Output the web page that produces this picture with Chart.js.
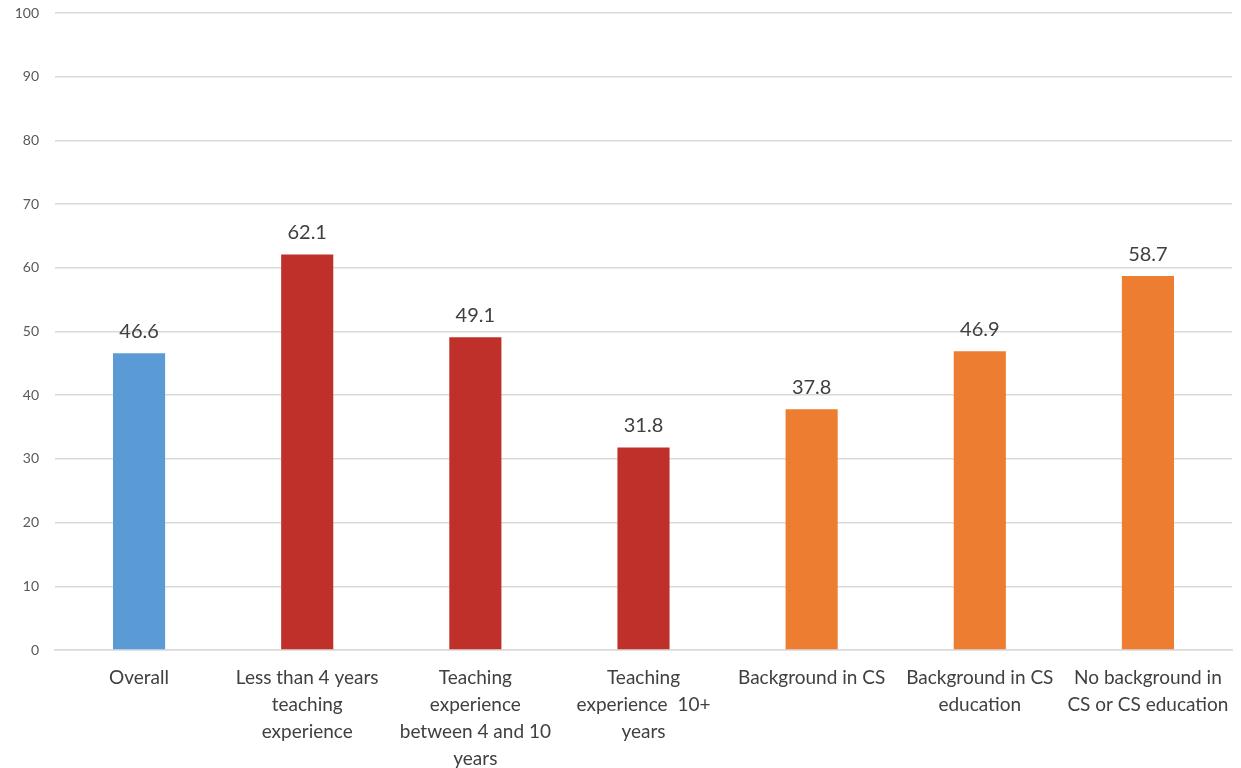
<!DOCTYPE html>
<html>
<head>
<meta charset="utf-8">
<script src="https://cdn.jsdelivr.net/npm/chart.js@4"></script>
<style>
  html, body { margin: 0; padding: 0; background: #fff; }
  #wrap { width: 1241px; height: 768px; }
</style>
</head>
<body>
<div id="wrap"><canvas id="barChart" width="1241" height="768"></canvas></div>
<script>
// categories (multi-line labels as in the original)
var categories = [
    ["Overall"],
    ["Less than 4 years", "teaching", "experience"],
    ["Teaching", "experience", "between 4 and 10", "years"],
    ["Teaching", "experience  10+", "years"],
    ["Background in CS"],
    ["Background in CS", "education"],
    ["No background in", "CS or CS education"]
];
var values = [46.6, 62.1, 49.1, 31.8, 37.8, 46.9, 58.7];
var barColors = ['#5B9BD5', '#C0302A', '#C0302A', '#C0302A', '#ED7D31', '#ED7D31', '#ED7D31'];
var yTicks = [0, 10, 20, 30, 40, 50, 60, 70, 80, 90, 100];

var fontFamily = 'Lato, "Open Sans", sans-serif';

// draws the value above each bar
var valueLabels = {
    id: 'valueLabels',
    afterDatasetsDraw: function (chart) {
        var ctx = chart.ctx;
        ctx.save();
        ctx.font = '20px ' + fontFamily;
        ctx.fillStyle = '#404040';
        ctx.textAlign = 'center';
        ctx.textBaseline = 'middle';
        chart.getDatasetMeta(0).data.forEach(function (bar, i) {
            ctx.fillText(values[i].toFixed(1), bar.x, bar.y - 22);
        });
        ctx.restore();
    }
};

var ctx = document.getElementById('barChart').getContext('2d');

var chart = new Chart(ctx, {
    type: 'bar',
    data: {
        labels: categories,
        datasets: [{
            data: values,
            backgroundColor: barColors,
            borderWidth: 0,
            categoryPercentage: 1,
            barPercentage: 0.31
        }]
    },
    plugins: [valueLabels],
    options: {
        responsive: false,
        animation: false,
        layout: { padding: { top: 13, right: 9, left: 0, bottom: 0 } },
        plugins: {
            legend: { display: false },
            tooltip: { enabled: false }
        },
        scales: {
            y: {
                min: 0,
                max: 100,
                afterFit: function (scale) {
                    scale.width = 55;
                    scale.paddingTop = 0;
                    scale.paddingBottom = 0;
                },
                afterBuildTicks: function (scale) {
                    scale.ticks = yTicks.map(function (v) { return { value: v }; });
                },
                border: { display: false },
                grid: { color: '#d9d9d9', lineWidth: 1.5, drawTicks: false },
                ticks: {
                    padding: 16,
                    color: '#595959',
                    font: { family: fontFamily, size: 14 }
                }
            },
            x: {
                afterFit: function (scale) { scale.height = 118; },
                border: { display: true, color: '#d9d9d9', width: 1.5 },
                grid: { display: false },
                ticks: {
                    padding: 7,
                    maxRotation: 0,
                    autoSkip: false,
                    color: '#404040',
                    font: { family: fontFamily, size: 19, lineHeight: '26.7px' }
                }
            }
        }
    }
});
</script>
</body>
</html>
